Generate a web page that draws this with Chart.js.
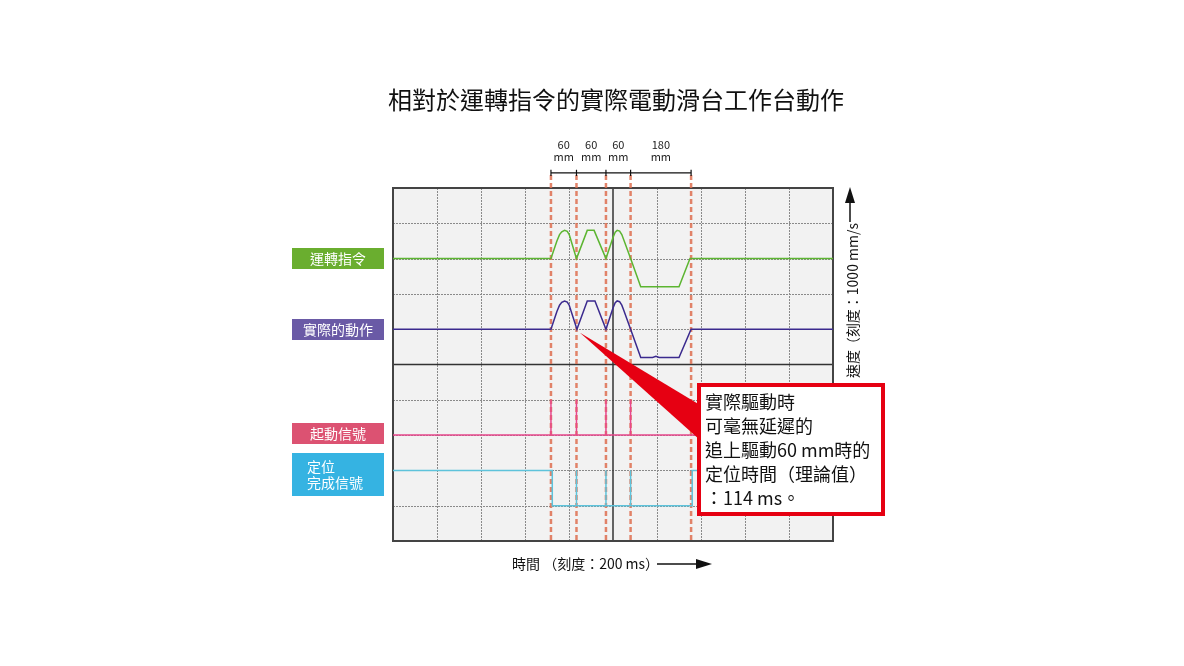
<!DOCTYPE html>
<html lang="zh-Hant">
<head>
<meta charset="utf-8">
<script src="https://cdn.jsdelivr.net/npm/chart.js@4/dist/chart.umd.min.js"></script>
<style>
  html, body { margin: 0; padding: 0; background: #fff; }
  #wrap { width: 1184px; height: 666px; position: relative; }
</style>
</head>
<body>
<div id="wrap"><canvas id="scope"></canvas></div>
<script>
// 時間軸: ms (10 格 x 200 ms), 縱軸: 格數 (0..10)
const timeTicks  = [0, 200, 400, 600, 800, 1000, 1200, 1400, 1600, 1800, 2000];
const levelTicks = [0, 1, 2, 3, 4, 5, 6, 7, 8, 9, 10];

// 各段移動的起點 (紅色虛線) 與距離標示
const moveEdges  = [718, 834, 968, 1080, 1355];
const moveLabels = ['60', '60', '60', '180'];

// 運轉指令 (速度波形)
const cmdTime  = [0, 718, 745, 757, 767, 780, 792, 801, 834, 883, 914, 968, 1000, 1010, 1019, 1030, 1040, 1048, 1080, 1126, 1300, 1350, 2000];
const cmdLevel = [8, 8, 8.5, 8.68, 8.76, 8.8, 8.77, 8.68, 8, 8.8, 8.8, 8, 8.6, 8.75, 8.8, 8.78, 8.68, 8.55, 8, 7.2, 7.2, 8, 8];

// 實際的動作
const actTime  = [0, 718, 745, 757, 767, 780, 792, 801, 836, 883, 918, 968, 1000, 1010, 1019, 1030, 1040, 1048, 1080, 1126, 1180, 1195, 1210, 1300, 1355, 2000];
const actLevel = [6, 6, 6.5, 6.68, 6.76, 6.8, 6.77, 6.68, 6, 6.8, 6.8, 6, 6.6, 6.75, 6.8, 6.78, 6.68, 6.55, 6, 5.2, 5.2, 5.23, 5.2, 5.2, 6, 6];

// 起動信號
const startTime  = [0, 718, 718, 718, 834, 834, 834, 968, 968, 968, 1080, 1080, 1080, 2000];
const startLevel = [3, 3, 4, 3, 3, 4, 3, 3, 4, 3, 3, 4, 3, 3];

// 定位完成信號
const doneTime  = [0, 724, 724, 834, 834, 834, 968, 968, 968, 1080, 1080, 1080, 1360, 1360, 2000];
const doneLevel = [2, 2, 1, 1, 2, 1, 1, 2, 1, 1, 2, 1, 1, 2, 2];

function toPoints(xs, ys) {
    return xs.map((t, i) => ({ x: t, y: ys[i] }));
}

// 紅色虛線與上方尺寸線
const dashTop = 10.37;
const dimY = 10.43;
const dashPts = [];
const dimTickPts = [];
moveEdges.forEach(e => {
    dashPts.push({ x: e, y: dashTop }, { x: e, y: 0 }, { x: e, y: null });
    dimTickPts.push({ x: e, y: dimY - 0.09 }, { x: e, y: dimY + 0.09 }, { x: e, y: null });
});
const dimLinePts = [{ x: moveEdges[0], y: dimY }, { x: moveEdges[moveEdges.length - 1], y: dimY }];

const CJK = '"Noto Sans CJK TC", "Noto Sans", sans-serif';

// 背景、格線、外框
const scopeFrame = {
    id: 'scopeFrame',
    beforeDatasetsDraw(chart) {
        const { ctx, chartArea: a, scales: { x, y } } = chart;
        ctx.save();
        ctx.fillStyle = '#f2f2f2';
        ctx.fillRect(a.left, a.top, a.right - a.left, a.bottom - a.top);

        ctx.strokeStyle = '#8a8a8a';
        ctx.lineWidth = 1;
        ctx.setLineDash([2, 1]);
        timeTicks.slice(1, -1).forEach(t => {
            if (t === 1000) return;
            const px = Math.round(x.getPixelForValue(t)) + 0.5;
            ctx.beginPath(); ctx.moveTo(px, a.top); ctx.lineTo(px, a.bottom); ctx.stroke();
        });
        levelTicks.slice(1, -1).forEach(v => {
            if (v === 5) return;
            const py = Math.round(y.getPixelForValue(v)) + 0.5;
            ctx.beginPath(); ctx.moveTo(a.left, py); ctx.lineTo(a.right, py); ctx.stroke();
        });

        // 中心線
        ctx.setLineDash([]);
        ctx.strokeStyle = '#333';
        ctx.lineWidth = 1.5;
        const cx = x.getPixelForValue(1000), cy = y.getPixelForValue(5);
        ctx.beginPath(); ctx.moveTo(cx, a.top); ctx.lineTo(cx, a.bottom); ctx.stroke();
        ctx.beginPath(); ctx.moveTo(a.left, cy); ctx.lineTo(a.right, cy); ctx.stroke();

        ctx.strokeStyle = '#444';
        ctx.lineWidth = 2;
        ctx.strokeRect(a.left, a.top, a.right - a.left, a.bottom - a.top);
        ctx.restore();
    }
};

// 標題、標籤、說明框
const scopeNotes = {
    id: 'scopeNotes',
    afterDraw(chart) {
        const { ctx, scales: { x, y } } = chart;
        ctx.save();

        ctx.fillStyle = '#111';
        ctx.font = '24px ' + CJK;
        ctx.textAlign = 'center';
        ctx.textBaseline = 'middle';
        ctx.fillText('相對於運轉指令的實際電動滑台工作台動作', 616, 100);

        // 尺寸文字
        ctx.font = '11px ' + CJK;
        ctx.fillStyle = '#222';
        moveLabels.forEach((lab, i) => {
            const mx = (x.getPixelForValue(moveEdges[i]) + x.getPixelForValue(moveEdges[i + 1])) / 2;
            ctx.fillText(lab, mx, 145);
            ctx.fillText('mm', mx, 157);
        });

        // 左側標籤
        const tags = [
            { text: ['運轉指令'], color: '#6aae2f', top: 248, h: 21 },
            { text: ['實際的動作'], color: '#6a5aa6', top: 319, h: 21 },
            { text: ['起動信號'], color: '#dc5272', top: 423, h: 21 },
            { text: ['定位', '完成信號'], color: '#35b3e2', top: 453, h: 43 }
        ];
        ctx.font = '14px ' + CJK;
        tags.forEach(t => {
            ctx.fillStyle = t.color;
            ctx.fillRect(292, t.top, 92, t.h);
            ctx.fillStyle = '#fff';
            if (t.text.length === 1) {
                ctx.textAlign = 'center';
                ctx.fillText(t.text[0], 338, t.top + t.h / 2);
            } else {
                ctx.textAlign = 'left';
                ctx.fillText(t.text[0], 307, t.top + 14);
                ctx.fillText(t.text[1], 307, t.top + 30);
            }
        });

        // 下方時間軸說明
        ctx.fillStyle = '#111';
        ctx.textAlign = 'left';
        ctx.font = '14px ' + CJK;
        ctx.fillText('時間 （刻度：200 ms）', 512, 564);
        ctx.strokeStyle = '#111';
        ctx.lineWidth = 1.5;
        ctx.beginPath(); ctx.moveTo(657, 564); ctx.lineTo(700, 564); ctx.stroke();
        ctx.beginPath(); ctx.moveTo(712, 564); ctx.lineTo(696, 559); ctx.lineTo(696, 569); ctx.closePath(); ctx.fill();

        // 右側速度軸說明
        ctx.save();
        ctx.translate(853, 0);
        ctx.rotate(-Math.PI / 2);
        ctx.textAlign = 'left';
        ctx.fillText('速度', -378, 0);
        ctx.textAlign = 'right';
        ctx.fillText('（刻度：1000 mm/s', -223, 0);
        ctx.restore();
        ctx.beginPath(); ctx.moveTo(850, 222); ctx.lineTo(850, 198); ctx.stroke();
        ctx.beginPath(); ctx.moveTo(850, 187); ctx.lineTo(845, 203); ctx.lineTo(855, 203); ctx.closePath(); ctx.fill();

        // 說明框指標
        const tipX = x.getPixelForValue(850), tipY = y.getPixelForValue(5.9);
        ctx.fillStyle = '#e60012';
        ctx.beginPath();
        ctx.moveTo(tipX, tipY);
        ctx.lineTo(700, 405);
        ctx.lineTo(700, 440);
        ctx.closePath();
        ctx.fill();

        // 說明框
        ctx.fillStyle = '#fff';
        ctx.fillRect(699, 385, 184, 129);
        ctx.strokeStyle = '#e60012';
        ctx.lineWidth = 4;
        ctx.strokeRect(699, 385, 184, 129);

        ctx.fillStyle = '#111';
        ctx.font = '18px ' + CJK;
        ctx.textAlign = 'left';
        const lines = ['實際驅動時', '可毫無延遲的', '追上驅動60 mm時的', '定位時間（理論值）', '：114 ms。'];
        lines.forEach((s, i) => ctx.fillText(s, 705, 402 + i * 24));

        ctx.restore();
    }
};

new Chart(document.getElementById('scope'), {
    type: 'line',
    data: {
        datasets: [
            { data: toPoints(cmdTime, cmdLevel), borderColor: '#5cb531', borderWidth: 1.5 },
            { data: toPoints(actTime, actLevel), borderColor: '#3b2a8e', borderWidth: 1.5 },
            { data: toPoints(startTime, startLevel), borderColor: '#e8478c', borderWidth: 1.5 },
            { data: toPoints(doneTime, doneLevel), borderColor: '#5ec3db', borderWidth: 1.5 },
            { data: dimLinePts, borderColor: '#111', borderWidth: 1.2, clip: false },
            { data: dimTickPts, borderColor: '#111', borderWidth: 1.2, clip: false },
            { data: dashPts, borderColor: 'rgba(222,110,80,0.85)', borderWidth: 2.5, borderDash: [5, 3], clip: false }
        ]
    },
    options: {
        responsive: true,
        maintainAspectRatio: false,
        animation: false,
        events: [],
        layout: { padding: { left: 393, right: 351, top: 188, bottom: 125 } },
        elements: {
            point: { radius: 0 },
            line: { tension: 0, fill: false }
        },
        spanGaps: false,
        scales: {
            x: { type: 'linear', min: 0, max: 2000, display: false },
            y: { type: 'linear', min: 0, max: 10, display: false }
        },
        plugins: {
            legend: { display: false },
            tooltip: { enabled: false }
        }
    },
    plugins: [scopeFrame, scopeNotes]
});
</script>
</body>
</html>
